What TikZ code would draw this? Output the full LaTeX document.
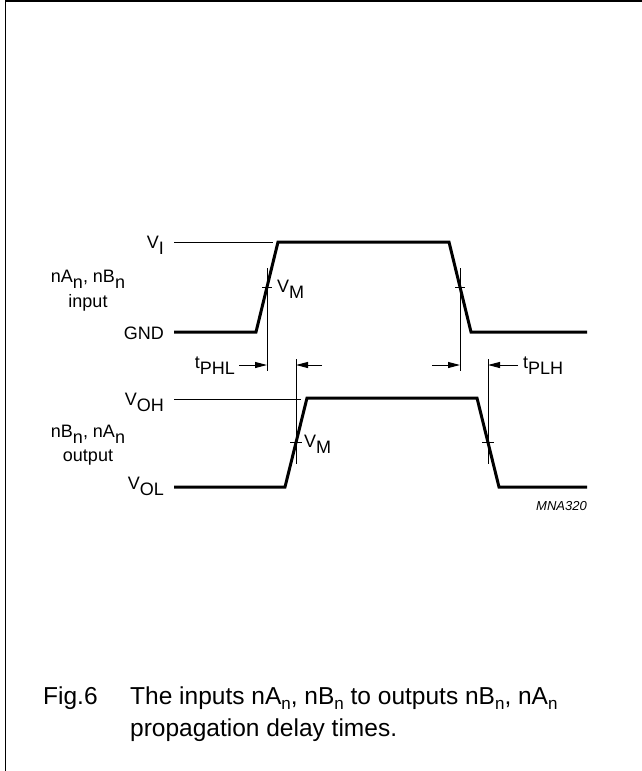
\documentclass[tikz,border=0pt]{standalone}
\usepackage{fontspec}
\setmainfont{Liberation Sans}
\usetikzlibrary{arrows.meta,positioning}
\newcommand\lowered[1]{\raisebox{-0.36em}{#1}}
\newcommand\capsub[1]{\raisebox{-0.22em}{\fontsize{17}{17}\selectfont #1}}
\begin{document}
\begin{tikzpicture}[
    x=1pt, y=-1pt,
    every node/.style={font=\fontsize{18}{22}\selectfont, inner sep=0pt},
    signal/.style={line width=3pt, line join=miter},
    guide/.style={line width=1pt},
    frame/.style={line width=1.5pt},
    delay/.style={line width=1pt, -{Triangle[length=12pt,width=6pt]}},
    caption/.style={font=\fontsize{24.5}{32}\selectfont}
]
\useasboundingbox (0,0) rectangle (642,771);
\draw[frame] (5.5,771) -- (5.5,0.75) -- (642,0.75);
% input waveform
\coordinate (in0) at (174,332);
\coordinate (in1) at (256,332);
\coordinate (in2) at (278,242);
\coordinate (in3) at (449,242);
\coordinate (in4) at (471,332);
\coordinate (in5) at (587,332);
\draw[signal] (in0) -- (in1) -- (in2) -- (in3) -- (in4) -- (in5);
% output waveform
\coordinate (out0) at (174,487);
\coordinate (out1) at (285,487);
\coordinate (out2) at (307,398);
\coordinate (out3) at (477,398);
\coordinate (out4) at (499,487);
\coordinate (out5) at (587,487);
\draw[signal] (out0) -- (out1) -- (out2) -- (out3) -- (out4) -- (out5);
% levels
\node[anchor=base east] (vi) at (164,248) {V\lowered{I}};
\node[anchor=base east] (gnd) at (164,339) {GND};
\node[anchor=base east] (voh) at (164,405) {V\lowered{OH}};
\node[anchor=base east] (vol) at (164,489) {V\lowered{OL}};
\coordinate (vi-l) at (174,242);
\coordinate (vi-r) at (273,242);
\coordinate (voh-l) at (174,399);
\coordinate (voh-r) at (301,399);
\draw[guide] (vi-l) -- (vi-r);
\draw[guide] (voh-l) -- (voh-r);
% signal names
\node[anchor=base] (inname) at (88,282) {nA\lowered{n}, nB\lowered{n}};
\node[anchor=base] (intype) at (88,307) {input};
\node[anchor=base] (outname) at (88,437) {nB\lowered{n}, nA\lowered{n}};
\node[anchor=base] (outtype) at (88,461) {output};
% switching points
\coordinate (mA) at (267,287);
\coordinate (mB) at (460,287);
\coordinate (mC) at (296,442.5);
\coordinate (mD) at (488,442.5);
\draw[guide] (267,268) -- (267,371);
\draw[guide] (460,268) -- (460,371);
\draw[guide] (296,359) -- (296,464);
\draw[guide] (488,359) -- (488,464);
\draw[guide] ([xshift=-5pt]mA) -- ([xshift=5pt]mA);
\draw[guide] ([xshift=-5pt]mB) -- ([xshift=5pt]mB);
\draw[guide] ([xshift=-6pt]mC) -- ([xshift=6pt]mC);
\draw[guide] ([xshift=-6pt]mD) -- ([xshift=6pt]mD);
\node[anchor=base west] (vm1) at (277,292) {V\lowered{M}};
\node[anchor=base west] (vm2) at (304,447) {V\lowered{M}};
% delay times
\node[anchor=base east] (phl) at (235,368) {t\lowered{PHL}};
\node[anchor=base west] (plh) at (523,368) {t\lowered{PLH}};
\coordinate (phl-a) at (239,365);
\coordinate (phl-b) at (267,365);
\coordinate (phl-c) at (322,365);
\coordinate (phl-d) at (296,365);
\coordinate (plh-a) at (432,365);
\coordinate (plh-b) at (460,365);
\coordinate (plh-c) at (518,365);
\coordinate (plh-d) at (488,365);
\draw[delay] (phl-a) -- (phl-b);
\draw[delay] (phl-c) -- (phl-d);
\draw[delay] (plh-a) -- (plh-b);
\draw[delay] (plh-c) -- (plh-d);
\node[anchor=base east, font=\fontsize{13}{15}\selectfont\itshape] (code) at (587,510) {MNA320};
% caption
\node[caption, anchor=base west] (fig) at (43,704) {Fig.6};
\node[caption, anchor=base west] (cap1) at (130,704) {The inputs nA\capsub{n}, nB\capsub{n} to outputs nB\capsub{n}, nA\capsub{n}};
\node[caption, anchor=base west] (cap2) at (130,736) {propagation delay times.};
\end{tikzpicture}
\end{document}
